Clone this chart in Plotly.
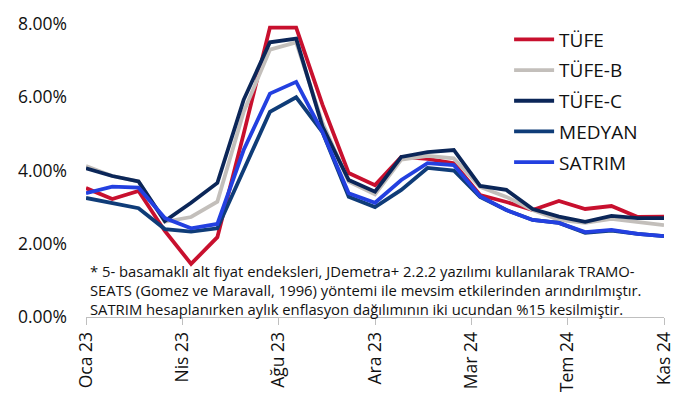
import plotly.graph_objects as go

months = ["Oca 23", "Şub 23", "Mar 23", "Nis 23", "May 23", "Haz 23", "Tem 23", "Ağu 23",
          "Eyl 23", "Eki 23", "Kas 23", "Ara 23", "Oca 24", "Şub 24", "Mar 24", "Nis 24",
          "May 24", "Haz 24", "Tem 24", "Ağu 24", "Eyl 24", "Eki 24", "Kas 24"]

tufe   = [3.52, 3.22, 3.44, 2.35, 1.45, 2.18, 5.00, 7.90, 7.90, 5.80, 3.93, 3.60,
          4.37, 4.32, 4.20, 3.33, 3.14, 2.92, 3.17, 2.95, 3.03, 2.73, 2.74]
tufe_b = [4.12, 3.85, 3.70, 2.60, 2.73, 3.15, 5.60, 7.30, 7.50, 5.30, 3.70, 3.35,
          4.30, 4.40, 4.33, 3.55, 3.28, 2.92, 2.65, 2.57, 2.68, 2.60, 2.51]
tufe_c = [4.06, 3.85, 3.70, 2.62, 3.12, 3.66, 5.93, 7.50, 7.60, 5.20, 3.74, 3.42,
          4.37, 4.50, 4.56, 3.58, 3.47, 2.95, 2.74, 2.60, 2.76, 2.70, 2.70]
medyan = [3.25, 3.12, 2.97, 2.40, 2.33, 2.42, 4.00, 5.60, 6.00, 5.05, 3.28, 3.00,
          3.47, 4.07, 4.00, 3.28, 2.92, 2.65, 2.57, 2.30, 2.36, 2.27, 2.21]
satrim = [3.38, 3.56, 3.53, 2.70, 2.42, 2.54, 4.56, 6.10, 6.42, 5.05, 3.38, 3.12,
          3.74, 4.20, 4.15, 3.30, 2.92, 2.65, 2.57, 2.32, 2.38, 2.27, 2.21]

tick_labels = ["Oca 23", "Nis 23", "Ağu 23", "Ara 23", "Mar 24", "Tem 24", "Kas 24"]
tick_pos = [0, 22/6, 44/6, 66/6, 88/6, 110/6, 22]

y_ticks = [0, 2, 4, 6, 8]
y_tick_text = ["0.00%", "2.00%", "4.00%", "6.00%", "8.00%"]

series = [
    ("TÜFE", tufe, "#c8102e"),
    ("TÜFE-B", tufe_b, "#c3bfbb"),
    ("TÜFE-C", tufe_c, "#0b2658"),
    ("MEDYAN", medyan, "#0f3c78"),
    ("SATRIM", satrim, "#2340e0"),
]

x = list(range(len(months)))
FONT = "Open Sans"
TXT = "#111111"

fig = go.Figure()
for name, vals, col in series:
    fig.add_trace(go.Scatter(x=x, y=vals, name=name, mode="lines", legendgroup=name,
                             line=dict(color=col, width=3.8),
                             customdata=months,
                             hovertemplate="%{customdata}: %{y:.2f}%<extra>" + name + "</extra>",
                             cliponaxis=False))

note = ("* 5- basamaklı alt fiyat endeksleri, JDemetra+ 2.2.2 yazılımı kullanılarak TRAMO-<br>"
        "SEATS (Gomez ve Maravall, 1996) yöntemi ile mevsim etkilerinden arındırılmıştır.<br>"
        "SATRIM hesaplanırken aylık enflasyon dağılımının iki ucundan %15 kesilmiştir.")

fig.add_annotation(text=note, xref="paper", yref="paper", x=0.003, y=0.092,
                   xanchor="left", yanchor="middle", align="left", showarrow=False,
                   font=dict(family=FONT, size=14.8, color=TXT))

# page body has an 8px margin: figure is sized/margined so the plot lands where the reference has it
fig.update_layout(
    width=676, height=398,
    margin=dict(l=78, r=20, t=16, b=89, autoexpand=False),
    paper_bgcolor="white", plot_bgcolor="white",
    font=dict(family=FONT, color=TXT),
    showlegend=True,
    legend=dict(x=0.732, y=1.012, xanchor="left", yanchor="top",
                font=dict(family=FONT, size=19, color=TXT),
                bgcolor="rgba(0,0,0,0)", tracegroupgap=3, itemwidth=40),
    xaxis=dict(range=[0, 22], tickvals=tick_pos, ticktext=tick_labels, tickangle=-90,
               showgrid=False, zeroline=False, showline=True, linecolor="#bfbfbf", linewidth=1,
               ticks="outside", ticklen=7, tickcolor="#bfbfbf",
               tickfont=dict(family=FONT, size=17.5, color=TXT)),
    yaxis=dict(range=[0, 8], tickvals=y_ticks, ticktext=y_tick_text,
               showgrid=False, zeroline=False, showline=False, ticklabelstandoff=18,
               tickfont=dict(family=FONT, size=17.5, color=TXT)),
)

fig.write_html("out.html")
